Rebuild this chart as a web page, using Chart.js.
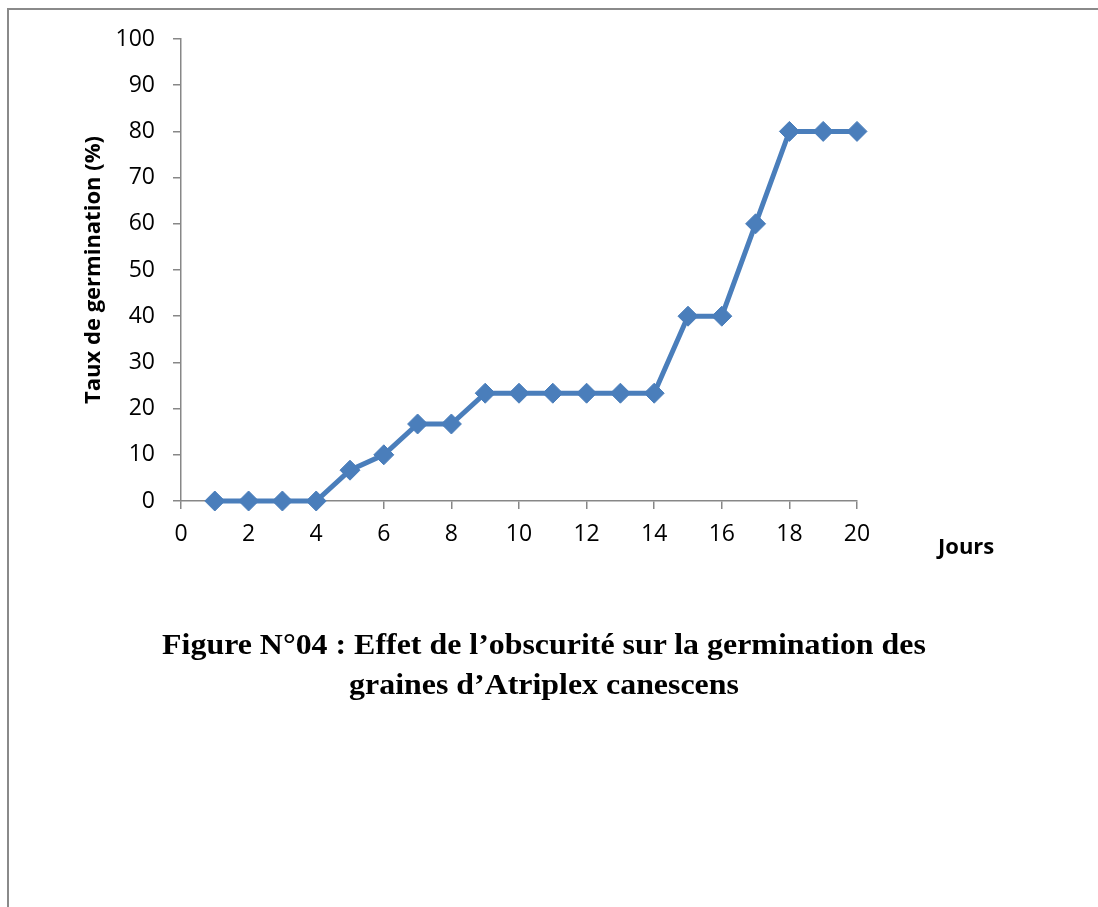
<!DOCTYPE html>
<html>
<head>
<meta charset="utf-8">
<script src="https://cdn.jsdelivr.net/npm/chart.js@4.4.0/dist/chart.umd.min.js"></script>
<style>
    html, body { margin: 0; padding: 0; background: #fff; }
    #page { position: relative; width: 1098px; height: 907px; overflow: hidden; }
    #frame {
        position: absolute; left: 7px; top: 8px; right: -10px; bottom: -10px;
        border-top: 2px solid #8a8a8a; border-left: 2px solid #8a8a8a;
    }
    #chart { position: absolute; left: 0; top: 0; }
    #xlabel {
        position: absolute; left: 938px; top: 534px;
        font: bold 22px "Open Sans", sans-serif; line-height: 22px; color: #000;
    }
    #caption {
        position: absolute; left: 144px; width: 800px; top: 624px;
        text-align: center; font: bold 29px "Liberation Serif", "Times New Roman", serif;
        line-height: 40px; color: #000;
        transform: scaleX(1.1); transform-origin: 400px 0;
    }
</style>
</head>
<body>
<div id="page">
    <div id="frame"></div>
    <canvas id="chart" width="1098" height="907"></canvas>
    <div id="xlabel">Jours</div>
    <div id="caption">Figure N°04 : Effet de l’obscurité sur la germination des<br>graines d’Atriplex canescens</div>
</div>
<script>
const days = [1, 2, 3, 4, 5, 6, 7, 8, 9, 10, 11, 12, 13, 14, 15, 16, 17, 18, 19, 20];
const rates = [0, 0, 0, 0, 6.67, 10, 16.67, 16.67, 23.33, 23.33, 23.33, 23.33, 23.33, 23.33, 40, 40, 60, 80, 80, 80];
const yTitle = 'Taux de germination (%)';

const axisGrey = '#878787';
const lineBlue = '#4a7ebb';

const points = days.map((d, i) => ({ x: d, y: rates[i] }));

const ctx = document.getElementById('chart').getContext('2d');
new Chart(ctx, {
    type: 'line',
    data: {
        datasets: [{
            data: points,
            borderColor: lineBlue,
            backgroundColor: lineBlue,
            borderWidth: 5,
            pointStyle: 'rectRot',
            pointRadius: 10,
            pointBorderWidth: 1,
            pointBorderColor: lineBlue,
            pointBackgroundColor: lineBlue,
            tension: 0,
            clip: false
        }]
    },
    options: {
        responsive: false,
        animation: false,
        layout: { padding: { left: 70, top: 39, right: 241, bottom: 366 } },
        plugins: { legend: { display: false }, tooltip: { enabled: false } },
        scales: {
            x: {
                type: 'linear',
                min: 0,
                max: 20,
                afterFit: s => { s.height = 40; },
                grid: { drawOnChartArea: false, drawTicks: true, tickLength: 8, color: axisGrey, lineWidth: 1.5 },
                border: { display: true, color: axisGrey, width: 1.5 },
                ticks: { stepSize: 2, color: '#000', padding: 12, font: { family: 'Open Sans', size: 23 } }
            },
            y: {
                min: 0,
                max: 100,
                afterFit: s => { s.width = 111; },
                grid: { drawOnChartArea: false, drawTicks: true, tickLength: 8, color: axisGrey, lineWidth: 1.5 },
                border: { display: true, color: axisGrey, width: 1.5 },
                ticks: { stepSize: 10, color: '#000', padding: 18, font: { family: 'Open Sans', size: 23 } },
                title: {
                    display: true,
                    text: yTitle,
                    color: '#000',
                    padding: { top: 11, bottom: 0 },
                    font: { family: 'Open Sans', size: 22, weight: 'bold' }
                }
            }
        }
    }
});
</script>
</body>
</html>
